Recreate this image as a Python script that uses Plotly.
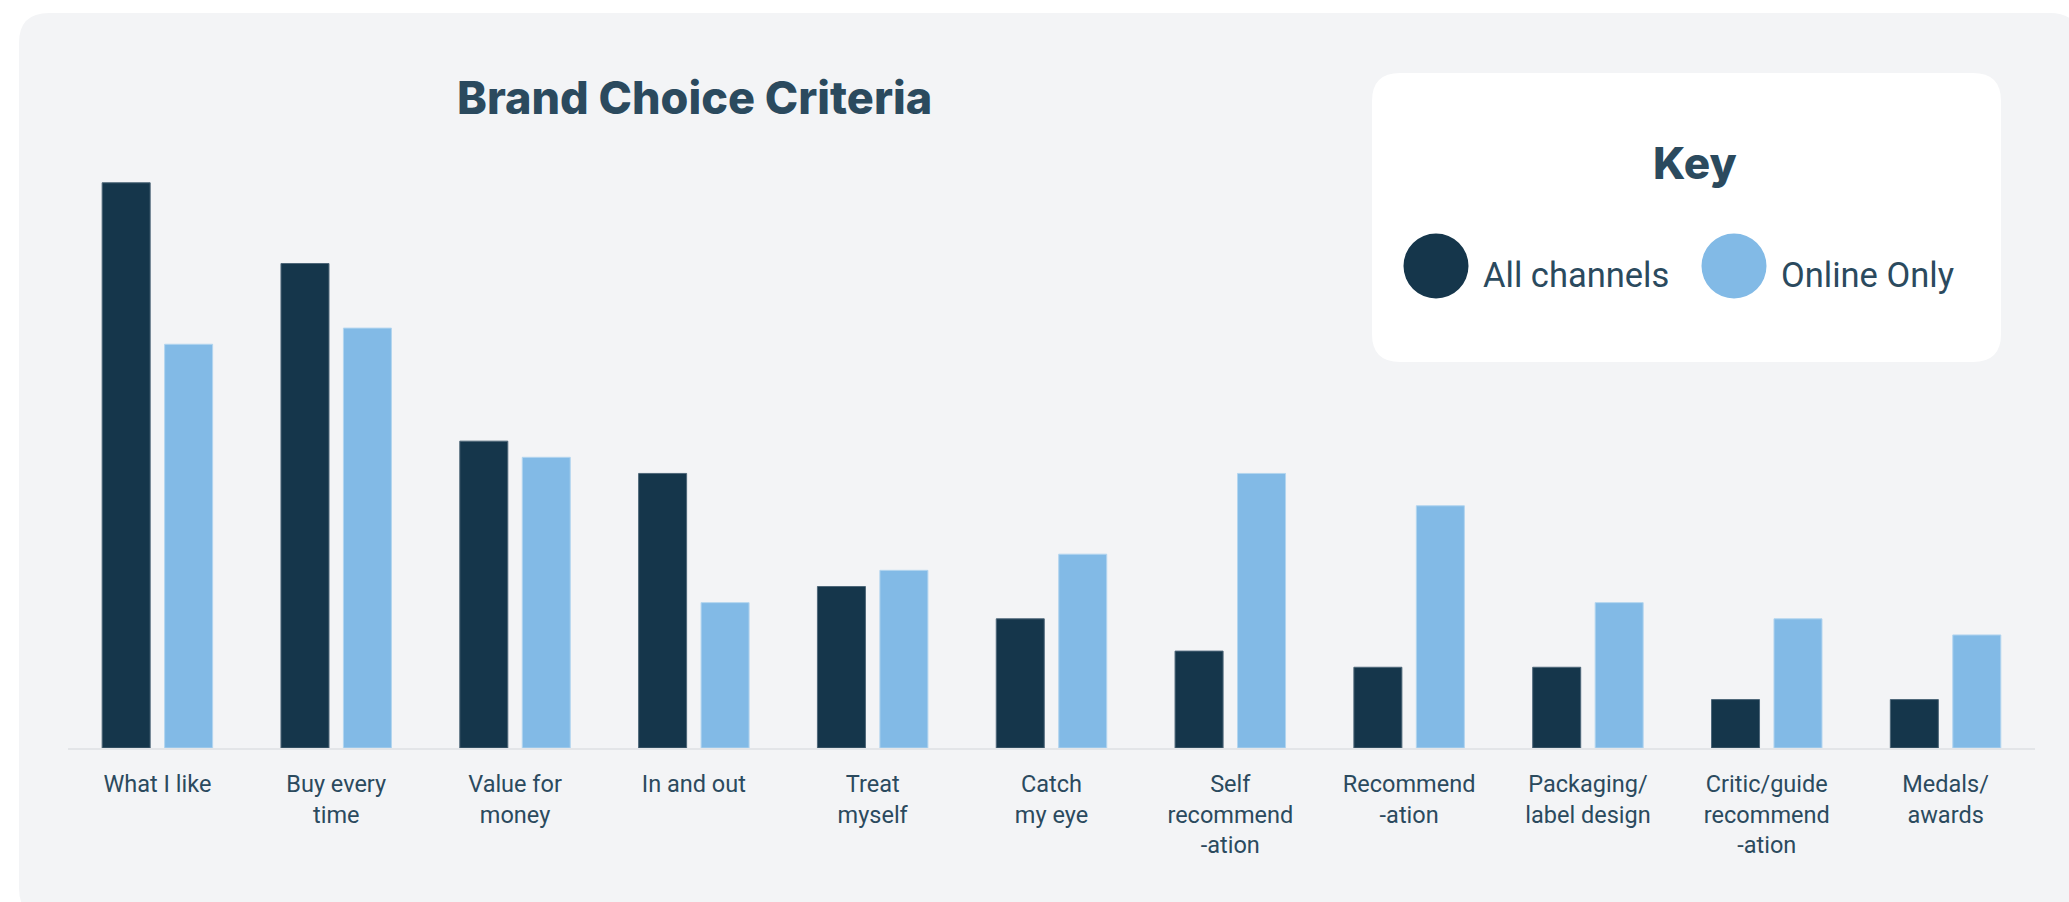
import plotly.graph_objects as go

# Brand choice criteria: share of respondents (%) by channel
categories = [
    "What I like", "Buy every<br>time", "Value for<br>money", "In and out",
    "Treat<br>myself", "Catch<br>my eye", "Self<br>recommend<br>-ation",
    "Recommend<br>-ation", "Packaging/<br>label design",
    "Critic/guide<br>recommend<br>-ation", "Medals/<br>awards",
]
all_channels = [35, 30, 19, 17, 10, 8, 6, 5, 5, 3, 3]
online_only = [25, 26, 18, 9, 11, 12, 17, 15, 9, 8, 7]
series_names = ["All channels", "Online Only"]

W, H = 2069, 902
DARK = "#15364B"
LIGHT = "#82BAE6"
CARD = "#F3F4F6"
TEXT = "#2B4A5E"

# bar geometry in category units (one category = 1.0)
BAR_W = 0.2685
OFFSETS = [-0.309, 0.0403]


def px(x):
    return x / W


def py(y):
    return 1 - y / H


def rounded_rect(x0, y0, x1, y1, r):
    """SVG path (paper coords) for a rounded rectangle given in pixels."""
    pts = [
        f"M {px(x0 + r)} {py(y0)}",
        f"L {px(x1 - r)} {py(y0)}",
        f"Q {px(x1)} {py(y0)} {px(x1)} {py(y0 + r)}",
        f"L {px(x1)} {py(y1 - r)}",
        f"Q {px(x1)} {py(y1)} {px(x1 - r)} {py(y1)}",
        f"L {px(x0 + r)} {py(y1)}",
        f"Q {px(x0)} {py(y1)} {px(x0)} {py(y1 - r)}",
        f"L {px(x0)} {py(y0 + r)}",
        f"Q {px(x0)} {py(y0)} {px(x0 + r)} {py(y0)}",
        "Z",
    ]
    return " ".join(pts)


fig = go.Figure()
fig.add_trace(go.Bar(
    x=categories, y=all_channels, name=series_names[0],
    width=BAR_W, offset=OFFSETS[0],
    marker=dict(color=DARK, line=dict(color="#4E6779", width=1)),
))
fig.add_trace(go.Bar(
    x=categories, y=online_only, name=series_names[1],
    width=BAR_W, offset=OFFSETS[1],
    marker=dict(color=LIGHT, line=dict(color="#B3D5EF", width=1)),
))

shapes = [
    # card background
    dict(type="path", xref="paper", yref="paper", layer="below",
         path=rounded_rect(19, 13, 2080, 918, 30),
         fillcolor=CARD, line=dict(width=0)),
    # key panel
    dict(type="path", xref="paper", yref="paper", layer="below",
         path=rounded_rect(1372, 73, 2001, 362, 28),
         fillcolor="white", line=dict(width=0)),
]
# key swatches
for cx, col in [(1436, DARK), (1734, LIGHT)]:
    rr = 32.5
    shapes.append(dict(type="circle", xref="paper", yref="paper",
                       x0=px(cx - rr), x1=px(cx + rr),
                       y0=py(266 + rr), y1=py(266 - rr),
                       fillcolor=col, line=dict(width=0)))

annotations = [
    dict(text="Brand Choice Criteria", x=px(694), y=py(97),
         xref="paper", yref="paper", xanchor="center", yanchor="middle",
         showarrow=False,
         font=dict(family="Inter", size=45, weight=800, color=TEXT)),
    dict(text="Key", x=px(1695), y=py(163),
         xref="paper", yref="paper", xanchor="center", yanchor="middle",
         showarrow=False,
         font=dict(family="Inter", size=44, weight=800, color=TEXT)),
    dict(text=series_names[0], x=px(1481), y=py(275),
         xref="paper", yref="paper", xanchor="left", yanchor="middle",
         showarrow=False, font=dict(family="Roboto", size=34.5, color=TEXT)),
    dict(text=series_names[1], x=px(1779), y=py(275),
         xref="paper", yref="paper", xanchor="left", yanchor="middle",
         showarrow=False, font=dict(family="Roboto", size=34.5, color=TEXT)),
]

fig.update_layout(
    width=W, height=H,
    margin=dict(l=0, r=0, t=0, b=0),
    paper_bgcolor="white",
    plot_bgcolor="rgba(0,0,0,0)",
    barmode="group",
    showlegend=False,
    shapes=shapes,
    annotations=annotations,
    xaxis=dict(
        domain=[px(68), px(2035)],
        showline=True, linecolor="#E3E5E8", linewidth=2,
        ticks="", showgrid=False, zeroline=False,
        tickfont=dict(family="Roboto", size=23.5, color=TEXT),
        ticklabelstandoff=14,
        automargin=False,
    ),
    yaxis=dict(
        domain=[py(748), py(102)],
        range=[0, 40],
        visible=False,
        automargin=False,
    ),
)

fig.write_html("out.html")
